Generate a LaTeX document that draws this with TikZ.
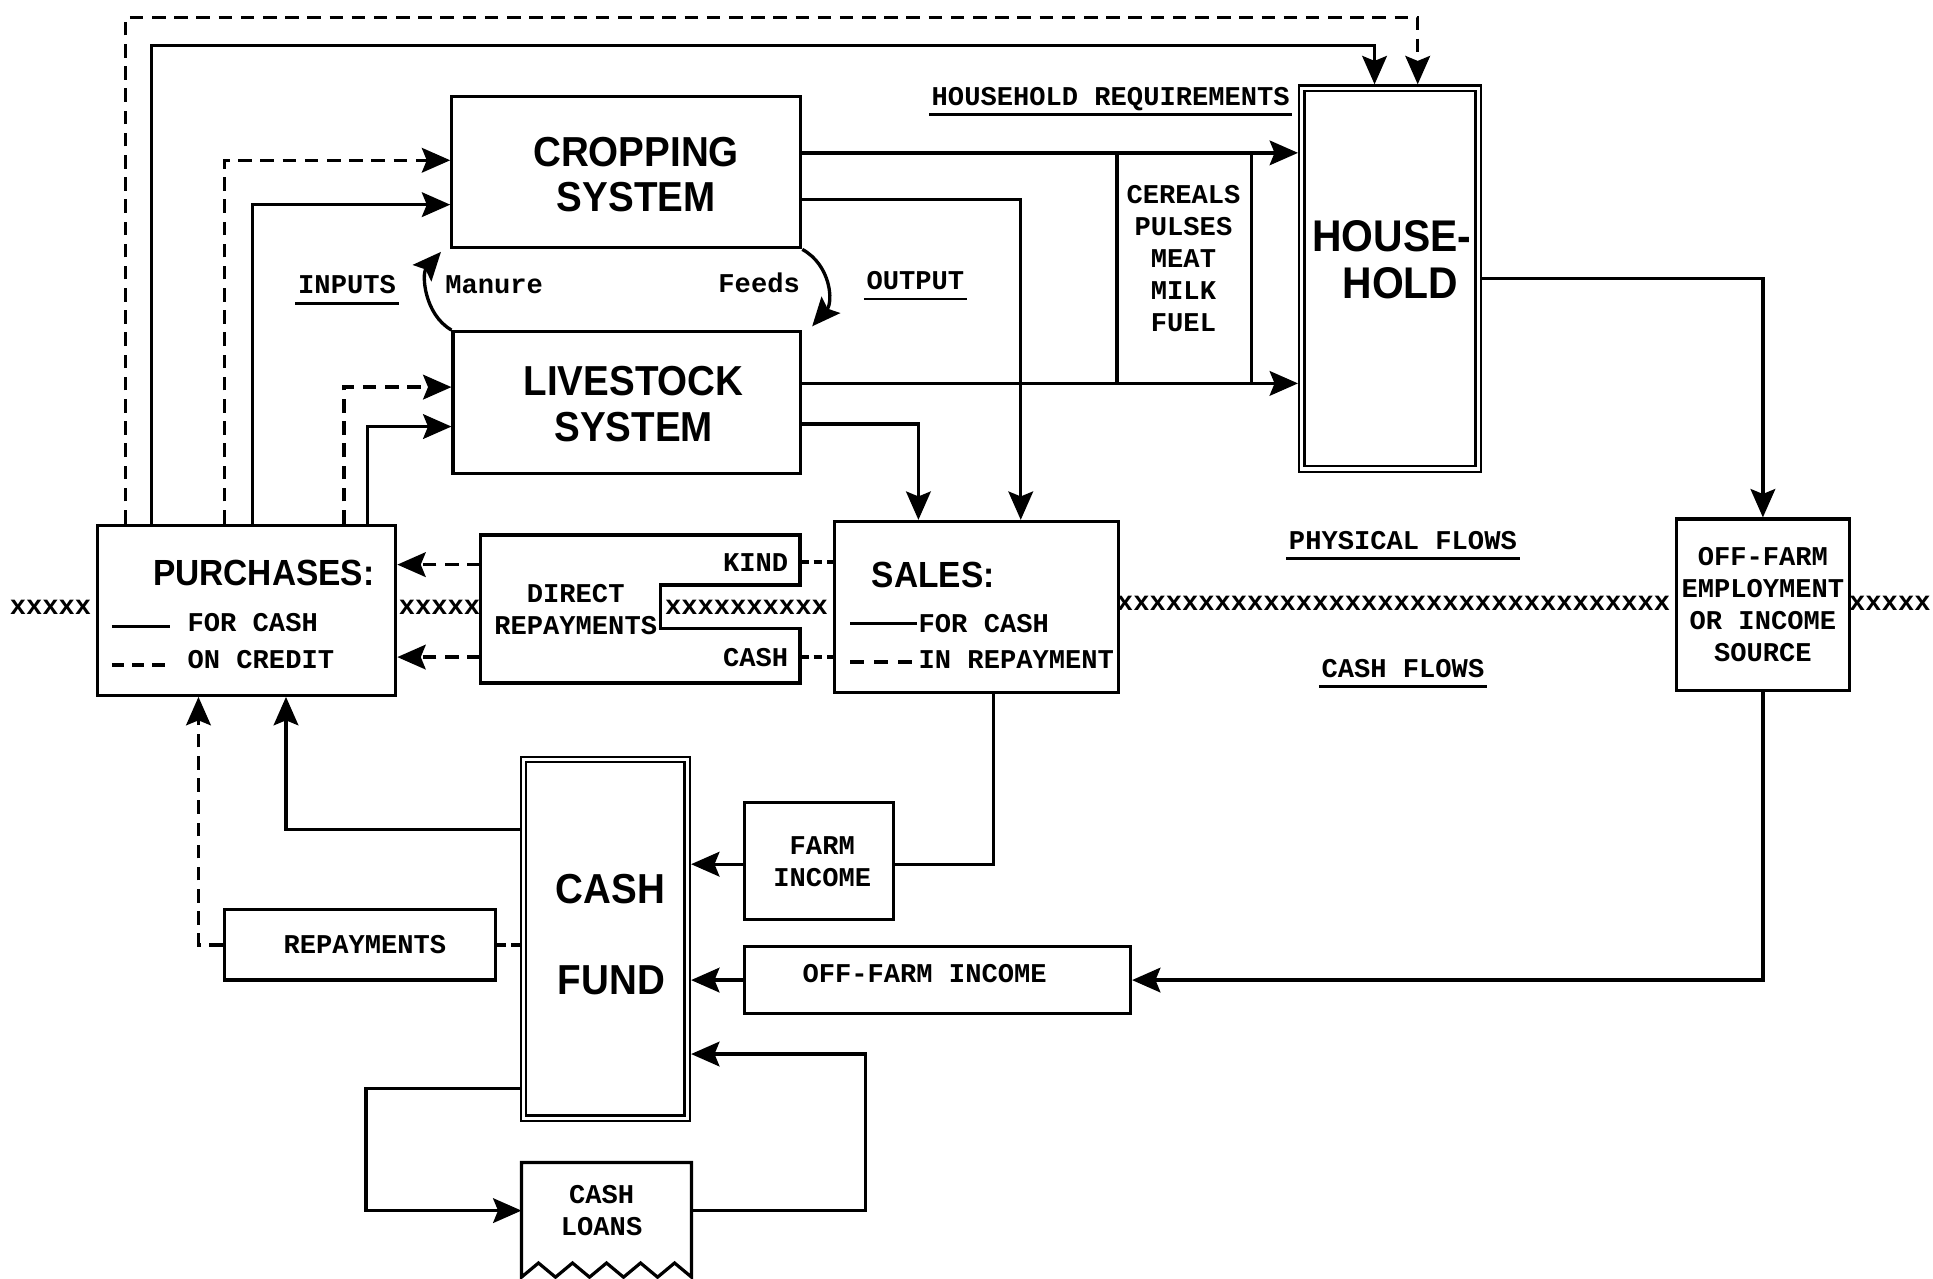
\documentclass[tikz,border=0pt]{standalone}
\usepackage{fontspec}
\usetikzlibrary{arrows.meta}
\newfontfamily\twfont{Liberation Mono}
\newfontfamily\bsfont[FakeStretch=0.92]{Liberation Sans}
\tikzset{
  sbox/.style={draw, line width=2.6pt, inner sep=0pt, rectangle},
  dbox/.style={draw, double, double distance=2.6pt, line width=1.8pt, inner sep=0pt, outer sep=3.1pt, rectangle},
  hid/.style={inner sep=0pt, outer sep=0pt, rectangle},
  tw/.style={font=\twfont\bfseries\fontsize{22}{26}\selectfont, inner sep=0pt, align=center},
  ulab/.style={tw, text depth=0pt},
  bsA/.style={font=\bsfont\bfseries\fontsize{34}{37}\selectfont, inner sep=0pt, align=center},
  bsB/.style={font=\bsfont\bfseries\fontsize{29.5}{32}\selectfont, inner sep=0pt},
  bsC/.style={font=\bsfont\bfseries\fontsize{36}{40}\selectfont, inner sep=0pt},
  ln/.style={line width=2.7pt},
  arr/.style={line width=2.7pt, -{Stealth[length=23pt,width=20pt,inset=4pt]}},
  dsh/.style={dash pattern=on 11pt off 7pt},
  dshs/.style={dash pattern=on 7pt off 4pt},
  ul/.style={line width=2.2pt},
}
\begin{document}
\begin{tikzpicture}[x=1pt,y=-1pt]
\fill[white] (0,0) rectangle (1568,1037);
\useasboundingbox (0,0) rectangle (1568,1037);

% ---------- boxes ----------
\node[sbox, minimum width=283pt, minimum height=123pt] (crop) at (508,139.5) {};
\node[sbox, minimum width=282pt, minimum height=115pt] (live) at (508.5,326.5) {};
\node[dbox, minimum width=143pt, minimum height=309pt] (hh) at (1127.5,226) {};
\node[sbox, minimum width=242pt, minimum height=138pt] (purch) at (200,495) {};
\node[hid, minimum width=259pt, minimum height=120pt] (dr) at (519.5,494) {};
\node[sbox, minimum width=230pt, minimum height=139pt] (sales) at (792,492.5) {};
\node[sbox, minimum width=140pt, minimum height=139pt] (off) at (1430,490.5) {};
\node[sbox, minimum width=121pt, minimum height=95pt] (fi) at (664.5,698.5) {};
\node[dbox, minimum width=133pt, minimum height=291pt] (cf) at (491,761.5) {};
\node[sbox, minimum width=220pt, minimum height=57pt] (rep) at (292,766.5) {};
\node[sbox, minimum width=313pt, minimum height=54pt] (ofi) at (760.5,795) {};
\node[hid, minimum width=138pt, minimum height=93pt] (cl) at (492,989.5) {};

% direct repayments outline with notch
\draw[line width=2.6pt] (dr.north west) -- (dr.north east) -- ([yshift=19.5pt]dr.east)
  -- ([xshift=-113.4pt,yshift=19.5pt]dr.east) -- ([xshift=-113.4pt,yshift=-15.6pt]dr.east)
  -- ([yshift=-15.6pt]dr.east) -- (dr.south east) -- (dr.south west) -- cycle;

% cash loans outline with zigzag bottom
\draw[line width=2.6pt] (cl.south west) -- (cl.north west) -- (cl.north east) -- (cl.south east)
  -- ([xshift=-13.8pt,yshift=11.5pt]cl.south east)
  -- ([xshift=-27.6pt]cl.south east)
  -- ([xshift=-41.4pt,yshift=11.5pt]cl.south east)
  -- ([xshift=-55.2pt]cl.south east)
  -- ([xshift=-69pt,yshift=11.5pt]cl.south east)
  -- ([xshift=-82.8pt]cl.south east)
  -- ([xshift=-96.6pt,yshift=11.5pt]cl.south east)
  -- ([xshift=-110.4pt]cl.south east)
  -- ([xshift=-124.2pt,yshift=11.5pt]cl.south east)
  -- cycle;

% ---------- texts ----------
\node[bsA] (cropt) at (516,141.5) {CROPPING\\SYSTEM};
\node[bsA] (livet) at (514,328) {LIVESTOCK\\SYSTEM};
\node[bsC] (hha) at (1129,192) {HOUSE-};
\node[bsC] (hhb) at (1136,230) {HOLD};
\node[bsA] (cfa) at (495,721) {CASH};
\node[bsA] (cfb) at (496,795) {FUND};
\node[bsB] (purt) at (214,465) {PURCHASES:};
\node[bsB] (salt) at (757,466) {SALES:};

\node[ulab] (hreq) at (901,78) {HOUSEHOLD REQUIREMENTS};
\node[ulab] (inputs) at (281.5,231) {INPUTS};
\node[ulab] (output) at (742.5,227.5) {OUTPUT};
\node[ulab] (phys) at (1138,438) {PHYSICAL FLOWS};
\node[ulab] (cashfl) at (1138,542) {CASH FLOWS};
\foreach \n in {hreq,inputs,output,phys,cashfl}
  \draw[ul] ([xshift=-2pt,yshift=-7.5pt]\n.south west) -- ([xshift=2pt,yshift=-7.5pt]\n.south east);

\node[tw, anchor=west] (manure) at (361,231) {Manure};
\node[tw, anchor=east] (feeds) at (649,229) {Feeds};
\node[tw] (cereals) at (960,209.5) {CEREALS\\PULSES\\MEAT\\MILK\\FUEL};
\node[tw] (offt) at (1430,490.5) {OFF-FARM\\EMPLOYMENT\\OR INCOME\\SOURCE};
\node[tw] (x1) at (41,493) {xxxxx};
\node[tw] (x2) at (356.5,493) {xxxxx};
\node[tw] (x3) at (605.5,493) {xxxxxxxxxx};
\node[tw] (x4) at (1130.5,489) {xxxxxxxxxxxxxxxxxxxxxxxxxxxxxxxxxx};
\node[tw] (x5) at (1533,489) {xxxxx};
\node[tw] (drt) at (467,494.5) {DIRECT\\REPAYMENTS};
\node[tw] (kind) at (613,456) {KIND};
\node[tw] (drcash) at (613,533) {CASH};
\node[tw, anchor=west] (pfc) at (152,505) {FOR CASH};
\node[tw, anchor=west] (poc) at (152,535) {ON CREDIT};
\node[tw, anchor=west] (sfc) at (745,505.5) {FOR CASH};
\node[tw, anchor=west] (sir) at (745,535) {IN REPAYMENT};
\node[tw] (fit) at (667,699) {FARM\\INCOME};
\node[tw] (rept) at (296,766) {REPAYMENTS};
\node[tw] (ofit) at (750,790) {OFF-FARM INCOME};
\node[tw] (clt) at (488,982) {CASH\\LOANS};

% legend strokes
\draw[ln] ([xshift=13pt,yshift=-13pt]purch.west) -- ([xshift=60pt,yshift=-13pt]purch.west);
\draw[ln,dash pattern=on 10pt off 6.5pt] ([xshift=13pt,yshift=-44.5pt]purch.west) -- ([xshift=60pt,yshift=-44.5pt]purch.west);
\draw[ln] ([xshift=14pt,yshift=-13pt]sales.west) -- ([xshift=68pt,yshift=-13pt]sales.west);
\draw[ln,dash pattern=on 11pt off 8.5pt] ([xshift=14pt,yshift=-44.5pt]sales.west) -- ([xshift=68pt,yshift=-44.5pt]sales.west);

% panel of household requirements
\coordinate (o1) at (650,124);
\coordinate (o3) at (650,311);
\coordinate (ca) at (906,124);
\coordinate (cb) at (1015,124);
\draw[ln] (ca) -- (ca |- o3);
\draw[ln] (cb) -- (cb |- o3);

% ---------- connectors ----------
\coordinate (ta) at (102,14);
\coordinate (tb) at (1150,14);
\coordinate (sa) at (123,37);
\coordinate (sb) at (1115,37);
\draw[arr,dsh] (purch.north -| ta) -- (ta) -- (tb) -- (hh.north -| tb);
\draw[arr] (purch.north -| sa) -- (sa) -- (sb) -- (hh.north -| sb);

\coordinate (i1) at (182,130);
\coordinate (i2) at (205,166);
\coordinate (i3) at (279,314);
\coordinate (i4) at (298,346);
\draw[arr,dsh] (purch.north -| i1) |- (crop.west |- i1);
\draw[arr] (purch.north -| i2) |- (crop.west |- i2);
\draw[arr,dsh] (purch.north -| i3) |- (live.west |- i3);
\draw[arr] (purch.north -| i4) |- (live.west |- i4);

\draw[arr] (crop.east |- o1) -- (hh.west |- o1);
\draw[arr] (live.east |- o3) -- (hh.west |- o3);
\coordinate (o2) at (828,162);
\coordinate (o4) at (745,344);
\draw[arr] (crop.east |- o2) -| (sales.north -| o2);
\draw[arr] (live.east |- o4) -| (sales.north -| o4);

\draw[arr] (live.north west) .. controls (344,255) and (342,222) .. ([xshift=-7.5pt,yshift=-2pt]crop.south west);
\draw[arr] (crop.south east) .. controls (674,215) and (676,245) .. ([xshift=8pt,yshift=3pt]live.north east);

\coordinate (h1) at (1431,226);
\draw[arr] (hh.east |- h1) -| (off.north);
\draw[arr] (off.south) |- (ofi.east);
\draw[arr] (ofi.west) -- (cf.east |- ofi.west);

\coordinate (s1) at (806,701);
\draw[ln] (sales.south -| s1) |- (fi.east |- s1);
\draw[arr] (fi.west |- s1) -- (cf.east |- s1);

\coordinate (p1) at (232,673);
\draw[arr] (cf.west |- p1) -| (purch.south -| p1);
\draw[ln,dshs] (cf.west |- rep.east) -- (rep.east);
\coordinate (p2) at (161,766);
\draw[arr,dsh] (rep.west) -| (purch.south -| p2);

\coordinate (l1) at (297,883);
\coordinate (l2) at (297,982);
\draw[arr] (cf.west |- l1) -- (l1) -- (l2) -- (cl.west |- l2);
\coordinate (l3) at (702,982);
\coordinate (l4) at (702,855);
\draw[arr] (cl.east |- l3) -- (l3) -- (l4) -- (cf.east |- l4);

\coordinate (d1) at (0,458);
\coordinate (d2) at (0,533);
\draw[arr,dsh] (dr.west |- d1) -- (purch.east |- d1);
\draw[arr,dsh] (dr.west |- d2) -- (purch.east |- d2);
\coordinate (k1) at (0,456);
\draw[ln,dshs] (dr.east |- k1) -- (sales.west |- k1);
\draw[ln,dshs] (dr.east |- d2) -- (sales.west |- d2);
\end{tikzpicture}
\end{document}
